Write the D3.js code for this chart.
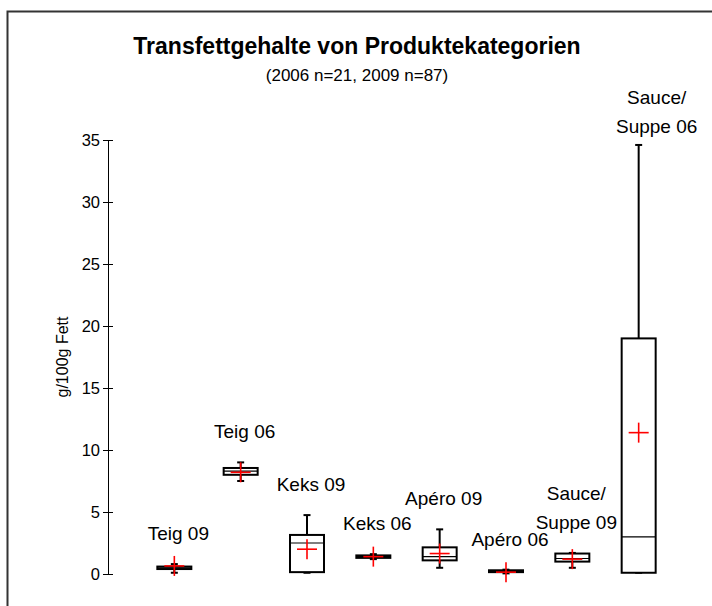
<!DOCTYPE html>
<html>
<head>
<meta charset="utf-8">
<script src="https://cdn.jsdelivr.net/npm/d3@7"></script>
<style>
  body { margin: 0; background: #fff; }
  svg text { font-family: "Liberation Sans", Arial, sans-serif; }
</style>
</head>
<body>
<div id="chart"></div>
<script>
// categories, label lines
const categories = ['Teig 09', 'Teig 06', 'Keks 09', 'Keks 06', 'Apéro 09', 'Apéro 06', 'Sauce/Suppe 09', 'Sauce/Suppe 06'];
const labelLines = [['Teig 09'], ['Teig 06'], ['Keks 09'], ['Keks 06'], ['Apéro 09'], ['Apéro 06'], ['Sauce/', 'Suppe 09'], ['Sauce/', 'Suppe 06']];

// box statistics (g/100g Fett)
const minValues    = [0.1, 7.5, 0.1, 1.2, 0.5, 0.05, 0.5, 0.1];
const q1Values     = [0.4, 8.0, 0.15, 1.3, 1.1, 0.15, 1.0, 0.1];
const medianValues = [0.5, 8.3, 2.5, 1.4, 1.4, 0.2, 1.25, 3.0];
const q3Values     = [0.6, 8.55, 3.15, 1.5, 2.15, 0.3, 1.65, 19.0];
const maxValues    = [0.8, 9.0, 4.75, 1.6, 3.6, 0.35, 1.7, 34.6];
const meanValues   = [0.65, 8.2, 2.0, 1.4, 1.65, 0.15, 1.2, 11.4];

const yTicks = [0, 5, 10, 15, 20, 25, 30, 35];

const W = 712, H = 606;
const svg = d3.select('#chart').append('svg')
  .attr('width', W)
  .attr('height', H);

// frame (open to the right and bottom)
svg.append('path')
  .attr('d', 'M7.5,' + H + ' V11.5 H' + W)
  .attr('fill', 'none')
  .attr('stroke', '#333')
  .attr('stroke-width', 2);

const axisX = 108;
const y = d3.scaleLinear().domain([0, 35]).range([574, 140]);
const x = d3.scalePoint().domain(categories).range([axisX, 705]).padding(1);

// title
svg.append('text')
  .attr('x', 357).attr('y', 54)
  .attr('text-anchor', 'middle')
  .style('font-family', '"Liberation Sans Narrow", "Liberation Sans", Arial, sans-serif')
  .style('font-weight', 'bold')
  .style('font-size', '23px')
  .text('Transfettgehalte von Produktekategorien');

svg.append('text')
  .attr('x', 357).attr('y', 81)
  .attr('text-anchor', 'middle')
  .style('font-family', '"Liberation Sans Narrow", "Liberation Sans", Arial, sans-serif')
  .style('font-size', '17px')
  .text('(2006 n=21, 2009 n=87)');

// y axis
const yAxis = d3.axisLeft(y).tickValues(yTicks).tickSizeInner(5).tickSizeOuter(0).tickPadding(6);
const gy = svg.append('g')
  .attr('transform', 'translate(' + axisX + ',0)')
  .call(yAxis);
gy.select('.domain').attr('stroke', '#000');
gy.selectAll('.tick line').attr('x1', -5).attr('x2', 5).attr('stroke', '#000');
gy.selectAll('.tick text')
  .attr('x', -8)
  .style('font-size', '16.5px')
  .attr('fill', '#000');

svg.append('text')
  .attr('transform', 'translate(68,357) rotate(-90)')
  .attr('text-anchor', 'middle')
  .style('font-size', '16px')
  .text('g/100g Fett');

// boxes
const boxW = 34, capW = 7, crossR = 10;
const boxes = svg.append('g');

categories.forEach(function(c, i) {
  const cx = x(c);
  const g = boxes.append('g');

  // whiskers
  g.append('line')
    .attr('x1', cx).attr('x2', cx)
    .attr('y1', y(maxValues[i])).attr('y2', y(q3Values[i]))
    .attr('stroke', '#000').attr('stroke-width', 2);
  g.append('line')
    .attr('x1', cx).attr('x2', cx)
    .attr('y1', y(q1Values[i])).attr('y2', y(minValues[i]))
    .attr('stroke', '#000').attr('stroke-width', 2);
  [maxValues[i], minValues[i]].forEach(function(v) {
    g.append('line')
      .attr('x1', cx - capW / 2).attr('x2', cx + capW / 2)
      .attr('y1', y(v)).attr('y2', y(v))
      .attr('stroke', '#000').attr('stroke-width', 2);
  });

  // box
  g.append('rect')
    .attr('x', cx - boxW / 2)
    .attr('y', y(q3Values[i]))
    .attr('width', boxW)
    .attr('height', Math.max(y(q1Values[i]) - y(q3Values[i]), 1))
    .attr('fill', '#fff')
    .attr('stroke', '#000')
    .attr('stroke-width', 2);

  // median
  g.append('line')
    .attr('x1', cx - boxW / 2).attr('x2', cx + boxW / 2)
    .attr('y1', y(medianValues[i])).attr('y2', y(medianValues[i]))
    .attr('stroke', '#000').attr('stroke-width', 1.2);

  // mean cross
  const my = y(meanValues[i]);
  g.append('line')
    .attr('x1', cx - crossR).attr('x2', cx + crossR)
    .attr('y1', my).attr('y2', my)
    .attr('stroke', '#f00').attr('stroke-width', 1.6);
  g.append('line')
    .attr('x1', cx).attr('x2', cx)
    .attr('y1', my - crossR).attr('y2', my + crossR)
    .attr('stroke', '#f00').attr('stroke-width', 1.6);

  // label above top whisker; pushed down + right if it would hit the subtitle
  const lines = labelLines[i];
  const lineH = 29;
  let baseY = y(maxValues[i]) - 24;
  let dx = 4;
  const minTop = 104;
  if (baseY - (lines.length - 1) * lineH < minTop) {
    baseY = minTop + (lines.length - 1) * lineH;
    dx = 18;
  }
  const t = g.append('text')
    .attr('text-anchor', 'middle')
    .style('font-size', '19px');
  lines.forEach(function(l, k) {
    t.append('tspan')
      .attr('x', cx + dx)
      .attr('y', baseY - (lines.length - 1 - k) * lineH)
      .text(l);
  });
});
</script>
</body>
</html>
